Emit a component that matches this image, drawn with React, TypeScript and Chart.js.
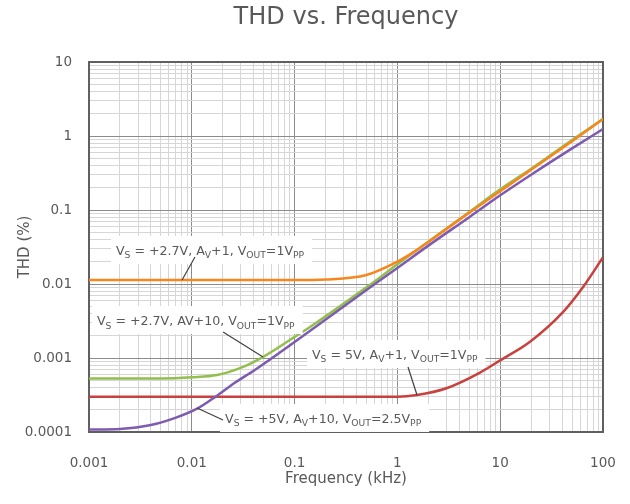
import { useEffect, useRef } from 'react';
import { Chart, registerables } from 'chart.js';

Chart.register(...registerables);

// ---- Data (frequency in kHz, THD in %) ----
const freqOrange = [0.001, 0.01, 0.1, 0.2, 0.5, 1, 1.5, 2, 5, 10, 20, 50, 100];
const thdOrange = [0.0113, 0.0113, 0.0113, 0.0115, 0.0132, 0.02, 0.028, 0.037, 0.092, 0.18, 0.35, 0.85, 1.7];

const freqGreen = [0.001, 0.005, 0.01, 0.0176, 0.0316, 0.049, 0.09, 0.14, 0.5, 1, 1.5, 5, 10, 20, 50, 100];
const thdGreen = [0.00053, 0.00053, 0.00055, 0.00059, 0.00076, 0.00103, 0.00175, 0.0026, 0.009, 0.0185, 0.028, 0.094, 0.19, 0.36, 0.88, 1.7];

const freqPurple = [0.001, 0.002, 0.004, 0.0069, 0.0115, 0.0168, 0.026, 0.041, 0.1, 0.5, 1, 2, 5, 10, 20, 50, 100];
const thdPurple = [0.000108, 0.00011, 0.000124, 0.000155, 0.00021, 0.000296, 0.00046, 0.00069, 0.00165, 0.0083, 0.0165, 0.033, 0.08, 0.158, 0.3, 0.68, 1.24];

const freqRed = [0.001, 0.1, 1, 1.55, 3, 6.3, 10, 19.5, 41, 64, 100];
const thdRed = [0.0003, 0.0003, 0.0003, 0.000316, 0.00039, 0.00063, 0.00093, 0.00166, 0.0042, 0.0091, 0.023];

const seriesNames = [
  'VS = +2.7V, AV+1, VOUT=1VPP',
  'VS = +2.7V, AV+10, VOUT=1VPP',
  'VS = +5V, AV+10, VOUT=2.5VPP',
  'VS = 5V, AV+1, VOUT=1VPP',
];
const seriesColors = ['#F7861C', '#93BF4E', '#7D5BB0', '#C9413E'];

// ---- Axes ----
const xMajorTicks = [0.001, 0.01, 0.1, 1, 10, 100];
const xTickLabels = ['0.001', '0.01', '0.1', '1', '10', '100'];
const yMajorTicks = [0.0001, 0.001, 0.01, 0.1, 1, 10];
const yTickLabels = ['0.0001', '0.001', '0.01', '0.1', '1', '10'];
const minorMultipliers = [2, 3, 4, 5, 6, 7, 8, 9];

const titleText = 'THD vs. Frequency';
const xTitle = 'Frequency (kHz)';
const yTitle = 'THD (%)';

// ---- Annotations (anchored in data coordinates) ----
type Seg = { t: string; sub?: boolean };
type Note = {
  segs: Seg[];
  textAt: [number, number];
  lineFrom: [number, number];
  lineTo: [number, number];
};
const notes: Note[] = [
  {
    segs: [{ t: 'V' }, { t: 'S', sub: true }, { t: ' = +2.7V, A' }, { t: 'V', sub: true }, { t: '+1, V' }, { t: 'OUT', sub: true }, { t: '=1V' }, { t: 'PP', sub: true }],
    textAt: [0.00183, 0.0247],
    lineFrom: [0.01074, 0.0232],
    lineTo: [0.00804, 0.0113],
  },
  {
    segs: [{ t: 'V' }, { t: 'S', sub: true }, { t: ' = +2.7V, AV+10, V' }, { t: 'OUT', sub: true }, { t: '=1V' }, { t: 'PP', sub: true }],
    textAt: [0.001196, 0.00279],
    lineFrom: [0.02014, 0.002244],
    lineTo: [0.0493, 0.001032],
  },
  {
    segs: [{ t: 'V' }, { t: 'S', sub: true }, { t: ' = 5V, A' }, { t: 'V', sub: true }, { t: '+1, V' }, { t: 'OUT', sub: true }, { t: '=1V' }, { t: 'PP', sub: true }],
    textAt: [0.1476, 0.00097],
    lineFrom: [1.268, 0.000755],
    lineTo: [1.551, 0.000316],
  },
  {
    segs: [{ t: 'V' }, { t: 'S', sub: true }, { t: ' = +5V, A' }, { t: 'V', sub: true }, { t: '+10, V' }, { t: 'OUT', sub: true }, { t: '=2.5V' }, { t: 'PP', sub: true }],
    textAt: [0.02105, 0.0001324],
    lineFrom: [0.01124, 0.000211],
    lineTo: [0.02014, 0.000145],
  },
];

const FONT = '"DejaVu Sans", Verdana, sans-serif';
const TEXT_COLOR = '#595959';

function buildTicks(majors: number[], labels: string[]) {
  const out: any[] = [];
  majors.forEach((m, i) => {
    out.push({ value: m, isMajor: true, lbl: labels[i] });
    if (i < majors.length - 1) {
      minorMultipliers.forEach((k) => out.push({ value: m * k, isMajor: false, lbl: '' }));
    }
  });
  return out;
}

const toPoints = (xs: number[], ys: number[]) => xs.map((x, i) => ({ x, y: ys[i] }));

const annotationPlugin = {
  id: 'notesAndFrame',
  beforeDatasetsDraw(chart: any) {
    const { ctx, chartArea: a } = chart;
    ctx.save();
    ctx.strokeStyle = '#606060';
    ctx.lineWidth = 2;
    ctx.strokeRect(a.left, a.top, a.right - a.left, a.bottom - a.top);
    ctx.restore();
  },
  afterDatasetsDraw(chart: any) {
    const { ctx } = chart;
    const xs = chart.scales.x;
    const ys = chart.scales.y;
    const mainFont = `12.6px ${FONT}`;
    const subFont = `9.2px ${FONT}`;
    ctx.save();
    notes.forEach((n) => {
      const tx = xs.getPixelForValue(n.textAt[0]);
      const ty = ys.getPixelForValue(n.textAt[1]);
      let w = 0;
      n.segs.forEach((s) => {
        ctx.font = s.sub ? subFont : mainFont;
        w += ctx.measureText(s.t).width;
      });
      ctx.fillStyle = '#ffffff';
      ctx.fillRect(tx - 5, ty - 19, w + 13, 28);
      // leader line
      ctx.strokeStyle = '#404040';
      ctx.lineWidth = 1.2;
      ctx.beginPath();
      ctx.moveTo(xs.getPixelForValue(n.lineFrom[0]), ys.getPixelForValue(n.lineFrom[1]));
      ctx.lineTo(xs.getPixelForValue(n.lineTo[0]), ys.getPixelForValue(n.lineTo[1]));
      ctx.stroke();
      // text
      ctx.fillStyle = TEXT_COLOR;
      ctx.textBaseline = 'alphabetic';
      ctx.textAlign = 'left';
      let cx = tx;
      n.segs.forEach((s) => {
        ctx.font = s.sub ? subFont : mainFont;
        ctx.fillText(s.t, cx, s.sub ? ty + 3.5 : ty);
        cx += ctx.measureText(s.t).width;
      });
    });
    ctx.restore();
  },
};

export default function App() {
  const ref = useRef<HTMLCanvasElement | null>(null);

  useEffect(() => {
    if (!ref.current) return;
    const xTicks = buildTicks(xMajorTicks, xTickLabels);
    const yTicks = buildTicks(yMajorTicks, yTickLabels);
    const gridColor = (c: any) => (c.tick && c.tick.isMajor ? '#8c8c8c' : '#d6d6d6');

    const datasets = [
      { xs: freqRed, ys: thdRed, idx: 3, order: 4 },
      { xs: freqOrange, ys: thdOrange, idx: 0, order: 2 },
      { xs: freqGreen, ys: thdGreen, idx: 1, order: 3 },
      { xs: freqPurple, ys: thdPurple, idx: 2, order: 1 },
    ].map((d) => ({
      label: seriesNames[d.idx],
      data: toPoints(d.xs, d.ys),
      borderColor: seriesColors[d.idx],
      backgroundColor: seriesColors[d.idx],
      borderWidth: 2.5,
      pointRadius: 0,
      cubicInterpolationMode: 'monotone' as const,
      fill: false,
      order: d.order,
    }));

    const chart = new Chart(ref.current, {
      type: 'line',
      data: { datasets },
      options: {
        animation: false,
        responsive: false,
        devicePixelRatio: 1,
        layout: { padding: { left: 0, right: 27, top: 0, bottom: 0 } },
        plugins: {
          legend: { display: false },
          tooltip: { enabled: false },
          title: {
            display: true,
            text: titleText,
            fullSize: false,
            color: TEXT_COLOR,
            font: { family: FONT, size: 24, weight: 'normal' },
            padding: { top: 3.6, bottom: 29.6 },
          },
        },
        scales: {
          x: {
            type: 'logarithmic',
            min: 0.001,
            max: 100,
            afterBuildTicks: (s: any) => {
              s.ticks = xTicks.map((t) => ({ ...t }));
            },
            afterFit: (s: any) => {
              s.height = 72;
            },
            ticks: {
              autoSkip: false,
              maxRotation: 0,
              minRotation: 0,
              padding: 0,
              color: TEXT_COLOR,
              font: { family: FONT, size: 13.5 },
              callback: (_v: any, i: number, ticks: any[]) => ticks[i].lbl,
            },
            grid: {
              color: gridColor,
              lineWidth: 1,
              drawTicks: true,
              tickLength: 23,
              tickColor: 'rgba(0,0,0,0)',
            },
            border: { display: false },
            title: {
              display: true,
              text: xTitle,
              color: TEXT_COLOR,
              font: { family: FONT, size: 15 },
              padding: { top: 0, bottom: 15.5 },
            },
          },
          y: {
            type: 'logarithmic',
            min: 0.0001,
            max: 10,
            afterBuildTicks: (s: any) => {
              s.ticks = yTicks.map((t) => ({ ...t }));
            },
            afterFit: (s: any) => {
              s.width = 89;
            },
            ticks: {
              autoSkip: false,
              padding: 0,
              color: TEXT_COLOR,
              font: { family: FONT, size: 13.5 },
              callback: (_v: any, i: number, ticks: any[]) => ticks[i].lbl,
            },
            grid: {
              color: gridColor,
              lineWidth: 1,
              drawTicks: true,
              tickLength: 17,
              tickColor: 'rgba(0,0,0,0)',
            },
            border: { display: false },
            title: {
              display: true,
              text: yTitle,
              color: TEXT_COLOR,
              font: { family: FONT, size: 15 },
              padding: { top: 16.5, bottom: 0 },
            },
          },
        },
      },
      plugins: [annotationPlugin],
    });
    return () => chart.destroy();
  }, []);

  return (
    <div style={{ position: 'fixed', left: 0, top: 0, width: 630, height: 504, background: '#ffffff' }}>
      <canvas ref={ref} width={630} height={504} style={{ width: 630, height: 504, display: 'block' }} />
    </div>
  );
}
